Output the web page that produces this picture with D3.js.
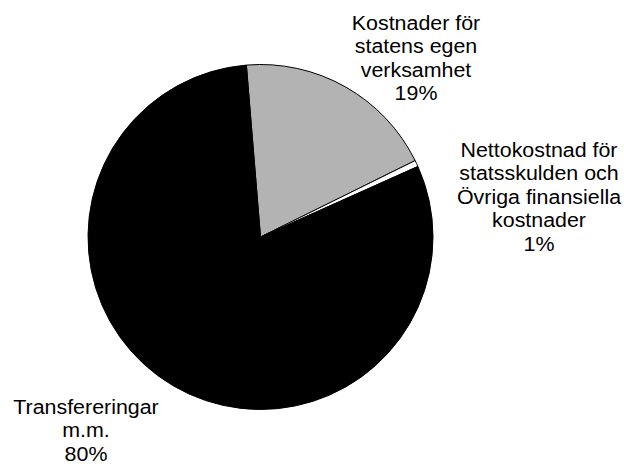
<!DOCTYPE html>
<html>
<head>
    <meta charset="utf-8">
    <title>Statens utgifter</title>
    <script src="https://cdn.jsdelivr.net/npm/d3@7"></script>
    <style>
        body { margin: 0; background: #fff; }
        text { font-family: "Liberation Sans", Arial, sans-serif; font-size: 20px; fill: #000; }
    </style>
</head>
<body>
    <div id="chart"></div>
    <script>
        // data
        var categories = ["Kostnader för statens egen verksamhet",
                          "Nettokostnad för statsskulden och Övriga finansiella kostnader",
                          "Transfereringar m.m."];
        var values = [19.0, 0.6, 80.4];
        var pctLabels = ["19%", "1%", "80%"];
        var labelLines = [
            ["Kostnader för", "statens egen", "verksamhet"],
            ["Nettokostnad för", "statsskulden och", "Övriga finansiella", "kostnader"],
            ["Transfereringar", "m.m."]
        ];
        var colors = ["#b3b3b3", "#ffffff", "#000000"];

        var width = 624,
            height = 466,
            cx = 260.5, cy = 237,
            radius = 172.5;

        var svg = d3.select("#chart").append("svg")
            .attr("width", width)
            .attr("height", height);

        var startA = -4.7 * Math.PI / 180;

        var pie = d3.pie().sort(null).value(function(d){ return d; })
            .startAngle(startA).endAngle(startA + 2 * Math.PI);
        var arc = d3.arc().innerRadius(0).outerRadius(radius);

        var g = svg.append("g").attr("transform", "translate(" + cx + "," + cy + ")");

        g.selectAll("path").data(pie(values))
            .enter().append("path")
            .attr("d", arc)
            .attr("fill", function(d, i){ return colors[i]; })
            .attr("stroke", "#000")
            .attr("stroke-width", 1)
            .attr("stroke-linejoin", "round");

        // label positions (centre x, first baseline)
        var labelPos = [[416, 30], [539, 157], [86, 414]];
        var lineH = 23.5;

        labelLines.forEach(function(lines, i){
            var all = lines.concat([pctLabels[i]]);
            // text in the original is slightly wide, so stretch it a bit
            var t = svg.append("g")
                .attr("transform", "translate(" + labelPos[i][0] + "," + labelPos[i][1] + ") scale(1.07,1)")
                .append("text")
                .attr("text-anchor", "middle");
            all.forEach(function(s, j){
                t.append("tspan")
                    .attr("x", 0)
                    .attr("dy", j === 0 ? 0 : lineH)
                    .text(s);
            });
        });
    </script>
</body>
</html>
